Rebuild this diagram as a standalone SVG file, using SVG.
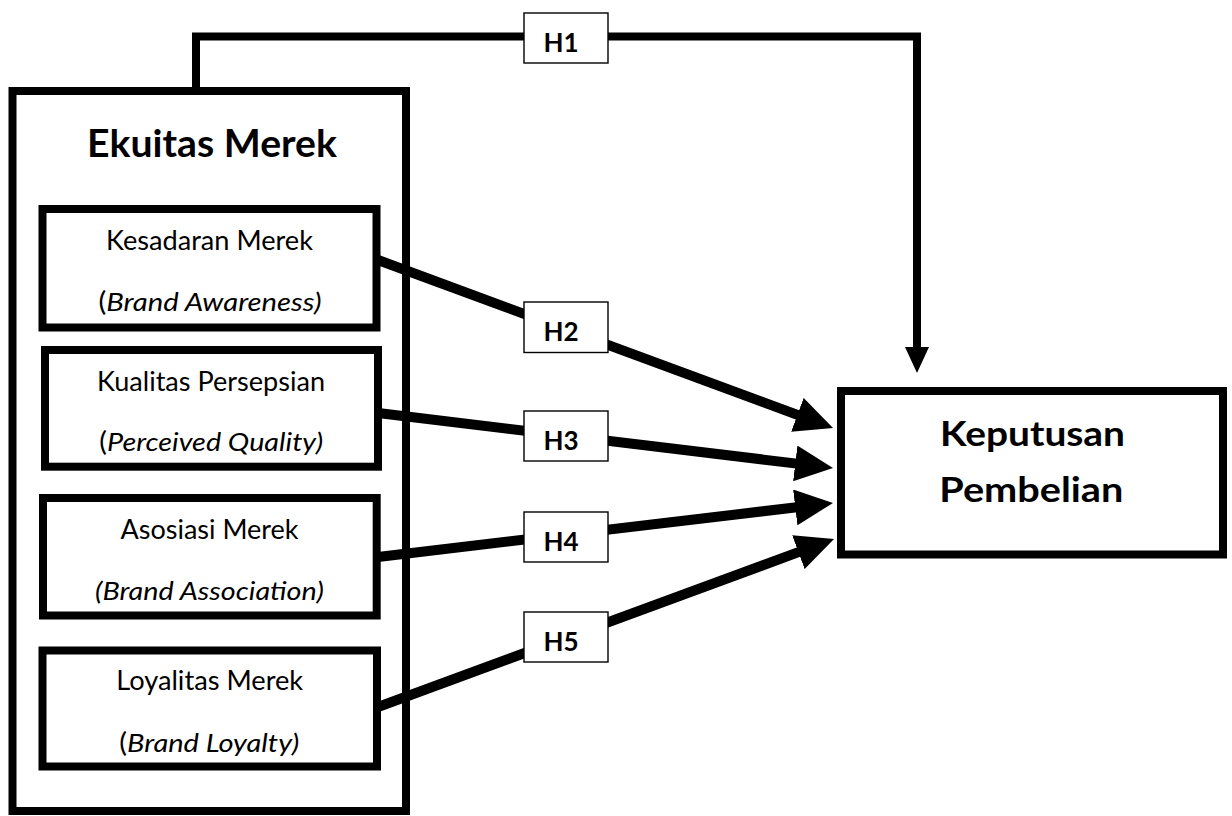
<svg xmlns="http://www.w3.org/2000/svg" width="1232" height="816" viewBox="0 0 1232 816">
<style>
.box{fill:#fff;stroke:#000;stroke-width:8}
.lbl{fill:#fff;stroke:#000;stroke-width:1.4}
.t{font-family:Lato,"Open Sans","Liberation Sans",sans-serif;fill:#000;text-anchor:middle}
.n{font-size:26px}
.i{font-style:italic}
.b{font-weight:bold}
.h{font-size:26px;font-weight:bold}
.con{fill:none;stroke:#000;stroke-width:10}
.con1{fill:none;stroke:#000;stroke-width:8}
</style>
<defs>
<marker id="ah" viewBox="0 0 38 36" refX="8" refY="18" markerWidth="38" markerHeight="36" markerUnits="userSpaceOnUse" orient="auto">
<path d="M0,0 L38,18 L0,36 Z" fill="#000"/>
</marker>
<marker id="ah1" viewBox="0 0 26 24" refX="6" refY="12" markerWidth="26" markerHeight="24" markerUnits="userSpaceOnUse" orient="auto">
<path d="M0,0 L26,12 L0,24 Z" fill="#000"/>
</marker>
</defs>
<rect width="1232" height="816" fill="#fff"/>
<g id="connectors">
<path class="con1" d="M196,91 V36.5 H917 V353" marker-end="url(#ah1)"/>
<path class="con" d="M378,260 L804.9,417.6" marker-end="url(#ah)"/>
<path class="con" d="M378,413 L803.2,464.4" marker-end="url(#ah)"/>
<path class="con" d="M378,557 L803.2,506.5" marker-end="url(#ah)"/>
<path class="con" d="M378,707 L805.9,549.4" marker-end="url(#ah)"/>
</g>
<g id="ekuitas-merek">
<rect x="12.5" y="91" width="393.5" height="720" fill="none" stroke="#000" stroke-width="8"/>
<text class="t b" x="212" y="157" font-size="38" textLength="250" lengthAdjust="spacingAndGlyphs">Ekuitas Merek</text>
</g>
<g id="kesadaran-merek">
<rect class="box" x="42.5" y="209" width="334" height="118.5"/>
<text class="t n" x="209.5" y="250" textLength="207" lengthAdjust="spacingAndGlyphs">Kesadaran Merek</text>
<text class="t n" x="210" y="311" textLength="223" lengthAdjust="spacingAndGlyphs">(<tspan class="i">Brand Awareness)</tspan></text>
</g>
<g id="kualitas-persepsian">
<rect class="box" x="45" y="350" width="333" height="116.7"/>
<text class="t n" x="211" y="391" textLength="228" lengthAdjust="spacingAndGlyphs">Kualitas Persepsian</text>
<text class="t n" x="211.3" y="451" textLength="224" lengthAdjust="spacingAndGlyphs">(<tspan class="i">Perceived Quality)</tspan></text>
</g>
<g id="asosiasi-merek">
<rect class="box" x="43" y="498" width="333.7" height="117.5"/>
<text class="t n" x="209.5" y="539" textLength="178" lengthAdjust="spacingAndGlyphs">Asosiasi Merek</text>
<text class="t n i" x="209.5" y="600" textLength="229" lengthAdjust="spacingAndGlyphs">(Brand Association)</text>
</g>
<g id="loyalitas-merek">
<rect class="box" x="42.5" y="650.5" width="334.5" height="116"/>
<text class="t n" x="209.7" y="690" textLength="187" lengthAdjust="spacingAndGlyphs">Loyalitas Merek</text>
<text class="t n" x="209.3" y="752" textLength="180" lengthAdjust="spacingAndGlyphs">(<tspan class="i">Brand Loyalty)</tspan></text>
</g>
<g id="keputusan-pembelian">
<rect class="box" x="841" y="391" width="382" height="163.5"/>
<text class="t b" x="1032.5" y="446" font-size="34" textLength="185" lengthAdjust="spacingAndGlyphs">Keputusan</text>
<text class="t b" x="1031.3" y="502" font-size="34" textLength="184" lengthAdjust="spacingAndGlyphs">Pembelian</text>
</g>
<g id="label-h1">
<rect class="lbl" x="524" y="13" width="84" height="50"/>
<text class="t h" x="561" y="52">H1</text>
</g>
<g id="label-h2">
<rect class="lbl" x="524" y="302" width="84" height="50.5"/>
<text class="t h" x="561" y="341">H2</text>
</g>
<g id="label-h3">
<rect class="lbl" x="524" y="411" width="84" height="50"/>
<text class="t h" x="561" y="450">H3</text>
</g>
<g id="label-h4">
<rect class="lbl" x="524" y="512" width="84" height="50"/>
<text class="t h" x="561" y="551">H4</text>
</g>
<g id="label-h5">
<rect class="lbl" x="524" y="612" width="84" height="50"/>
<text class="t h" x="561" y="651">H5</text>
</g>
</svg>
